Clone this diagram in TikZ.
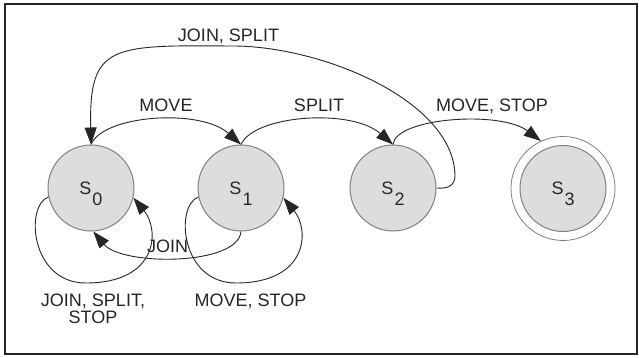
\documentclass[tikz,border=0pt]{standalone}
\usepackage{fontspec}
\setmainfont{Liberation Sans}
\usetikzlibrary{arrows.meta}
\definecolor{statefill}{HTML}{DDDDDD}
\definecolor{stateline}{HTML}{808080}
\definecolor{ink}{HTML}{262626}
\begin{document}
\begin{tikzpicture}[x=1pt,y=-1pt,
  state/.style={circle, draw=stateline, line width=1pt, fill=statefill, minimum size=86pt, inner sep=0pt, font=\fontsize{18}{20}\selectfont, text=ink},
  ring/.style={circle, draw=stateline, line width=0.8pt, minimum size=104pt, inner sep=0pt},
  edge/.style={draw=ink, line width=0.9pt, -{Triangle[length=17pt,width=12pt]}},
  lbl/.style={font=\fontsize{18}{17}\selectfont, text=ink, inner sep=0pt, anchor=base, align=center},
]
\useasboundingbox (0,0) rectangle (639,358);
\fill[white] (0,0) rectangle (639,358);
\draw[line width=2pt, draw=black!85] (5,4) rectangle (637,354);

\node[state] (s0) at (91,188) {S\kern1pt\smash{\raisebox{-11pt}{0}}};
\node[state] (s1) at (241,188) {S\kern1pt\smash{\raisebox{-11pt}{1}}};
\node[state] (s2) at (393,188) {S\kern1pt\smash{\raisebox{-11pt}{2}}};
\node[ring] (s3o) at (563,188.5) {};
\node[state] (s3) at (563,188.5) {S\kern1pt\smash{\raisebox{-11pt}{3}}};

\coordinate (w1) at (455,175);
\coordinate (w2) at (230,46);
\draw[edge] (s2.east) .. controls (449,189) and (455,185) .. (w1) .. controls (453,100) and (320,45) .. (w2) .. controls (110,45) and (89,45) .. (s0.north);
\draw[edge] (s0.north) .. controls (103,115) and (200,108) .. (s1.north);
\draw[edge] (s1.north) .. controls (254,115) and (351,108) .. (s2.north);
\draw[edge] (s2.north) .. controls (395,118) and (500,110) .. (s3o.115);
\draw[edge] (s1.south) .. controls (238,266) and (122,266) .. (s0.-87);
\coordinate (b0) at (86,283);
\draw[edge] (s0.192) .. controls (25,205) and (30,283) .. (b0) .. controls (158,283) and (160,230) .. (s0.-13);
\coordinate (b1) at (236,283);
\draw[edge] (s1.192) .. controls (175,205) and (180,283) .. (b1) .. controls (308,283) and (310,230) .. (s1.-13);

\node[lbl] (l1) at (228.5,41.7) {JOIN, SPLIT};
\node[lbl] (l2) at (166,112) {MOVE};
\node[lbl] (l3) at (319,112) {SPLIT};
\node[lbl] (l4) at (492,112) {MOVE, STOP};
\node[lbl] (l5) at (167.5,252.5) {JOIN};
\node[lbl] (l6) at (93,323) {JOIN, SPLIT,\\STOP};
\node[lbl] (l7) at (250.5,306) {MOVE, STOP};
\end{tikzpicture}
\end{document}
